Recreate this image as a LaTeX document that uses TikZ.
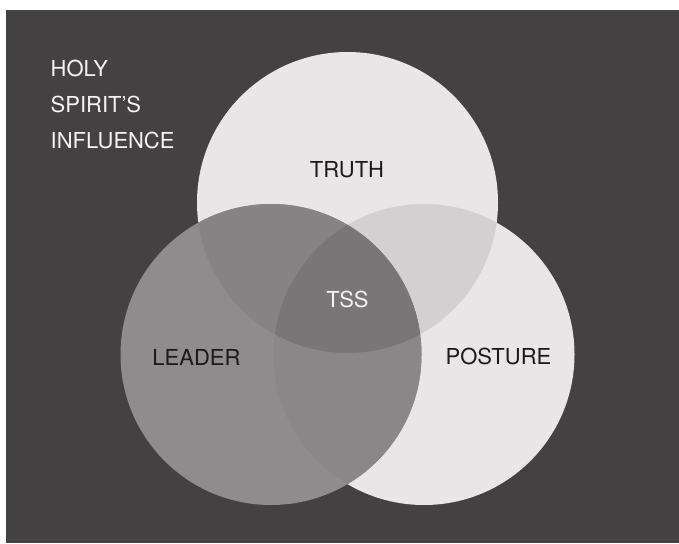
\documentclass[tikz,border=0pt]{standalone}
\usepackage{fontspec}
\setmainfont{TeX Gyre Heros}
\definecolor{bgdark}{HTML}{434142}
\definecolor{light}{HTML}{E8E6E7}
\definecolor{tpcol}{HTML}{D2D0D1}
\definecolor{leadcol}{HTML}{8E8C8D}
\definecolor{ltcol}{HTML}{858384}
\definecolor{lpcol}{HTML}{898788}
\definecolor{tsscol}{HTML}{787677}
\definecolor{labeldark}{HTML}{1A1A1A}
\definecolor{labellight}{HTML}{F4F4F4}
\tikzset{
  lbl/.style={inner sep=0pt, anchor=base, font=\fontsize{22}{26}\selectfont, text=labeldark},
  whitelbl/.style={lbl, text=labellight},
  sidelbl/.style={whitelbl, anchor=base west}
}
\begin{document}
\begin{tikzpicture}[x=1pt,y=-1pt]
\useasboundingbox (0,0) rectangle (679,543);
\fill[white] (0,0) rectangle (679,543);
\fill[bgdark] (6,10) rectangle (679,543);
\def\R{150.5}
\coordinate (T) at (347.5,202.5);
\coordinate (L) at (271,354.5);
\coordinate (P) at (424,354.5);
% single circles
\fill[light] (T) circle (\R);
\fill[light] (P) circle (\R);
\fill[leadcol] (L) circle (\R);
% truth & posture
\begin{scope}
  \clip (T) circle (\R);
  \fill[tpcol] (P) circle (\R);
\end{scope}
% leader & truth
\begin{scope}
  \clip (L) circle (\R);
  \fill[ltcol] (T) circle (\R);
\end{scope}
% leader & posture
\begin{scope}
  \clip (L) circle (\R);
  \fill[lpcol] (P) circle (\R);
\end{scope}
% center
\begin{scope}
  \clip (L) circle (\R);
  \clip (T) circle (\R);
  \fill[tsscol] (P) circle (\R);
\end{scope}
% labels
\node[lbl] (truth) at (347,177) {TRUTH};
\node[lbl] (leader) at (196.5,365) {LEADER};
\node[lbl] (posture) at (498.5,364) {POSTURE};
\node[whitelbl] (tss) at (347.5,307) {TSS};
\node[sidelbl] (holy) at (50.5,76) {HOLY};
\node[sidelbl] (spirit) at (50.5,112) {SPIRIT’S};
\node[sidelbl] (influence) at (50.5,148.5) {INFLUENCE};
\end{tikzpicture}
\end{document}
